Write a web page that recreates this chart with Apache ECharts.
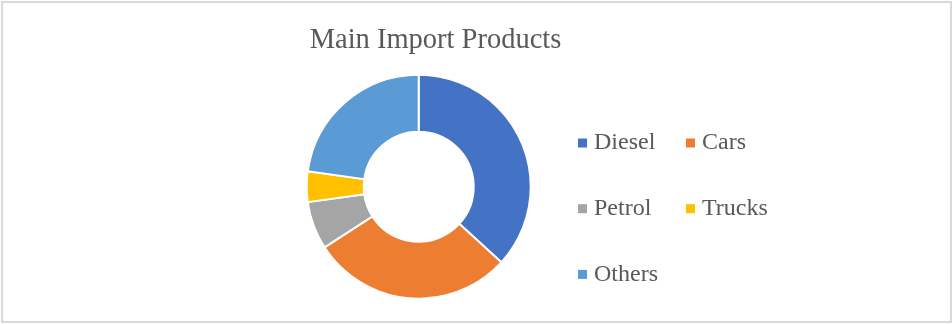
<!DOCTYPE html>
<html>
<head>
<meta charset="utf-8">
<script src="https://cdn.jsdelivr.net/npm/echarts@6/dist/echarts.min.js"></script>
<style>
html,body{margin:0;padding:0;background:#fff;}
#chart{width:952px;height:324px;}
</style>
</head>
<body>
<div id="chart"></div>
<script>
var titleText = 'Main Import Products';
var categories = ['Diesel', 'Cars', 'Petrol', 'Trucks', 'Others'];
var values = [36.8, 29.1, 6.9, 4.4, 22.8];
var colors = ['#4472C4', '#ED7D31', '#A5A5A5', '#FFC000', '#5B9BD5'];

var serif = '"Liberation Serif", "Times New Roman", serif';
var chart = echarts.init(document.getElementById('chart'), null, {renderer: 'canvas'});
var legendText = {fontFamily: serif, fontSize: 24, color: '#595959', lineHeight: 24, padding: [0, 0, 0, 2]};
var legendIcon = {borderWidth: 0};
chart.setOption({
  animation: false,
  color: colors,
  title: {
    text: titleText,
    left: 430.5, top: 21,
    textAlign: 'center',
    textStyle: {fontFamily: serif, fontSize: 28.5, fontWeight: 'normal', color: '#595959'}
  },
  legend: [
    {
      orient: 'vertical', left: 578, top: 131, padding: 0,
      itemWidth: 9, itemHeight: 9, itemGap: 41.7,
      icon: 'rect', itemStyle: legendIcon,
      data: [categories[0], categories[2], categories[4]],
      textStyle: legendText
    },
    {
      orient: 'vertical', left: 686, top: 131, padding: 0,
      itemWidth: 9, itemHeight: 9, itemGap: 41.7,
      icon: 'rect', itemStyle: legendIcon,
      data: [categories[1], categories[3]],
      textStyle: legendText
    }
  ],
  graphic: [{
    type: 'rect', silent: true,
    shape: {x: 2, y: 2, width: 949, height: 320},
    style: {fill: 'none', stroke: '#D9D9D9', lineWidth: 2}
  }],
  series: [{
    type: 'pie',
    center: [418.7, 186.7],
    radius: [55, 112],
    startAngle: 90,
    clockwise: true,
    label: {show: false},
    labelLine: {show: false},
    itemStyle: {borderColor: '#fff', borderWidth: 2},
    data: categories.map(function (c, i) { return {name: c, value: values[i]}; })
  }]
});
</script>
</body>
</html>
